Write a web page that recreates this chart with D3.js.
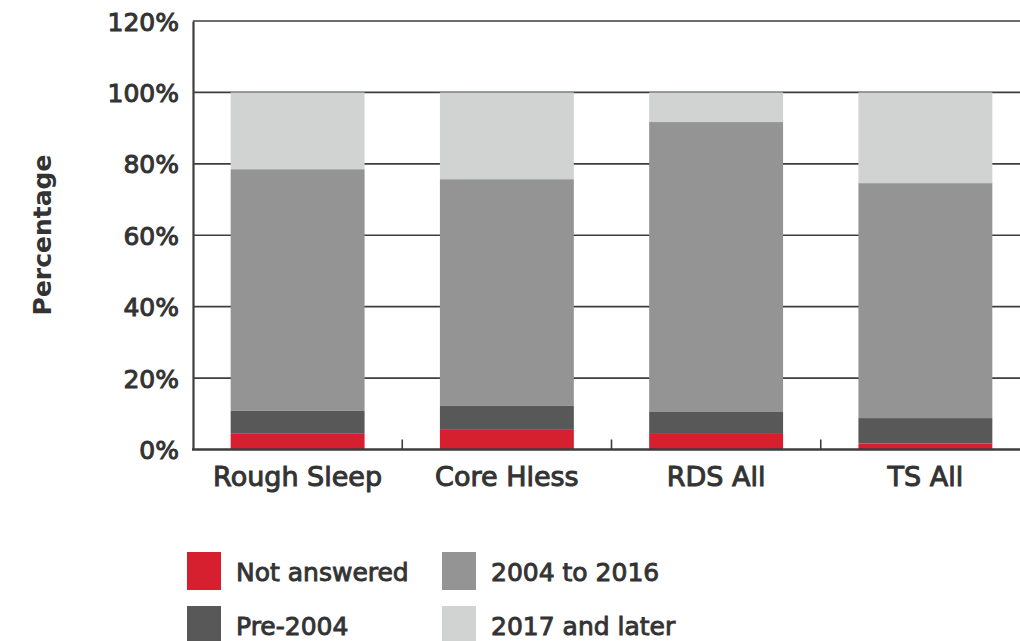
<!DOCTYPE html>
<html>
<head>
<meta charset="utf-8">
<script src="https://cdn.jsdelivr.net/npm/d3@7"></script>
<style>
  body { margin: 0; background: #fff; }
  svg { display: block; font-family: "DejaVu Sans", sans-serif; }
</style>
</head>
<body>
<script>
var categories = ['Rough Sleep', 'Core Hless', 'RDS All', 'TS All'];
var seriesNames = ['Not answered', 'Pre-2004', '2004 to 2016', '2017 and later'];
var notAnswered = [4.4, 5.5, 4.6, 1.7];
var pre2004 = [6.4, 6.7, 5.9, 7.1];
var y2004to2016 = [67.7, 63.5, 81.2, 65.8];
var y2017later = [21.5, 24.3, 8.3, 25.4];
var yTicks = [0, 20, 40, 60, 80, 100, 120];
var colors = ['#d6202f', '#575857', '#939493', '#d1d3d2'];

(function() {
  var w = 1020;
  var h = 641;
  var left = 193;
  var right = 1030;
  var top = 21;
  var bottom = 449.5;

  var rows = categories.map(function(c, i) {
    return {
      cat: c,
      'Not answered': notAnswered[i],
      'Pre-2004': pre2004[i],
      '2004 to 2016': y2004to2016[i],
      '2017 and later': y2017later[i]
    };
  });
  var stacked = d3.stack().keys(seriesNames)(rows);

  var svg = d3.select('body').append('svg').attr('width', w).attr('height', h);

  var xScale = d3.scaleBand()
    .domain(categories)
    .range([left, right])
    .paddingInner(0.36)
    .paddingOuter(0.18);

  var yScale = d3.scaleLinear().domain([0, 120]).range([bottom, top]);
  var color = d3.scaleOrdinal().domain(seriesNames).range(colors);

  // gridlines
  svg.append('g')
    .selectAll('line')
    .data(yTicks.filter(d => d > 0))
    .enter()
    .append('line')
    .attr('x1', left)
    .attr('x2', w)
    .attr('y1', d => yScale(d))
    .attr('y2', d => yScale(d))
    .attr('stroke', '#3d3d3d')
    .attr('stroke-width', 1.6);

  // bars
  svg.append('g')
    .selectAll('g')
    .data(stacked)
    .enter()
    .append('g')
    .attr('fill', d => color(d.key))
    .selectAll('rect')
    .data(d => d)
    .enter()
    .append('rect')
    .attr('x', d => xScale(d.data.cat))
    .attr('y', d => yScale(d[1]))
    .attr('width', xScale.bandwidth())
    .attr('height', d => yScale(d[0]) - yScale(d[1]));

  // y axis
  var yAxis = d3.axisLeft(yScale)
    .tickValues(yTicks)
    .tickSize(0)
    .tickPadding(14)
    .tickFormat(d => d + '%');
  var gy = svg.append('g').attr('transform', 'translate(' + left + ',0)').call(yAxis);
  gy.select('.domain').attr('stroke', '#3d3d3d').attr('stroke-width', 2.2);
  gy.selectAll('text')
    .attr('font-family', '"DejaVu Sans", sans-serif')
    .attr('font-size', '25px')
    .attr('fill', '#333')
    .attr('stroke', '#333')
    .attr('stroke-width', 1)
    .attr('dy', '0.36em');

  // x axis
  var gx = svg.append('g').attr('transform', 'translate(0,' + bottom + ')');
  gx.append('line')
    .attr('x1', left - 1)
    .attr('x2', w)
    .attr('stroke', '#3d3d3d')
    .attr('stroke-width', 2.4);
  var step = xScale.step();
  gx.selectAll('line.tick')
    .data(categories.slice(1))
    .enter()
    .append('line')
    .attr('class', 'tick')
    .attr('x1', d => xScale(d) - step * 0.18)
    .attr('x2', d => xScale(d) - step * 0.18)
    .attr('y1', 0)
    .attr('y2', -10)
    .attr('stroke', '#3d3d3d')
    .attr('stroke-width', 1.6);
  gx.selectAll('text')
    .data(categories)
    .enter()
    .append('text')
    .attr('x', d => xScale(d) + xScale.bandwidth() / 2)
    .attr('y', 36)
    .attr('text-anchor', 'middle')
    .attr('font-size', '27px')
    .attr('fill', '#333')
    .attr('stroke', '#333')
    .attr('stroke-width', 1)
    .text(d => d);

  // y title
  svg.append('text')
    .attr('transform', 'translate(51,235) rotate(-90)')
    .attr('text-anchor', 'middle')
    .attr('font-size', '25px')
    .attr('font-weight', 700)
    .attr('fill', '#333')
    .text('Percentage');

  // legend
  var legendX = [187, 442];
  var legendY = [552, 606];
  var order = ['Not answered', '2004 to 2016', 'Pre-2004', '2017 and later'];
  var lg = svg.append('g')
    .selectAll('g')
    .data(order)
    .enter()
    .append('g')
    .attr('transform', (d, i) => 'translate(' + legendX[i % 2] + ',' + legendY[Math.floor(i / 2)] + ')');
  lg.append('rect')
    .attr('width', 34)
    .attr('height', 38)
    .attr('fill', d => color(d));
  lg.append('text')
    .attr('x', 49)
    .attr('y', 29)
    .attr('font-size', '25px')
    .attr('fill', '#333')
    .attr('stroke', '#333')
    .attr('stroke-width', 0.9)
    .text(d => d);
})();
</script>
</body>
</html>
